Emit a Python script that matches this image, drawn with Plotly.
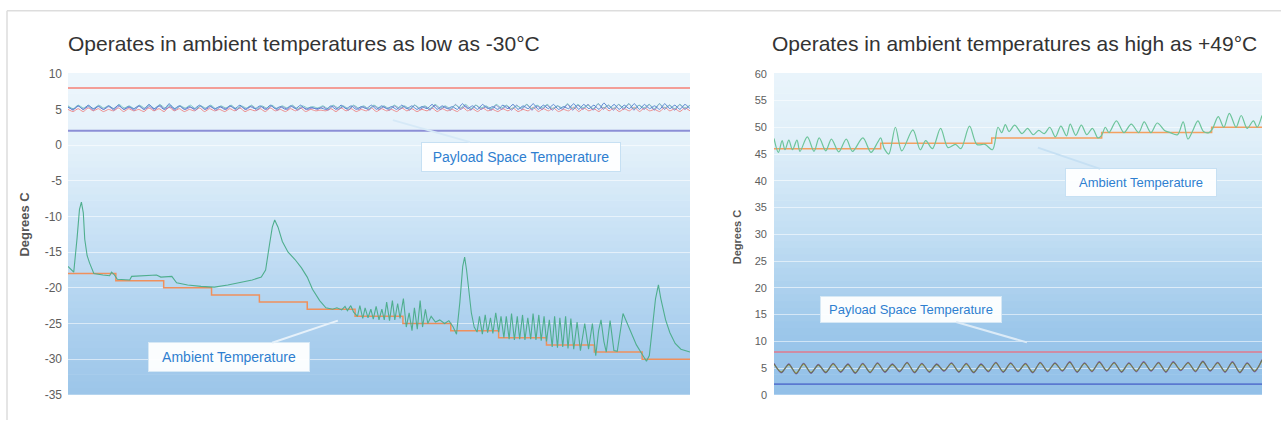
import numpy as np
import plotly.graph_objects as go

W, H = 1281, 427

# ---------------- LEFT PANEL DATA (x in arbitrary time units 0..13) ----------------
left_title = "Operates in ambient temperatures as low as -30°C"
right_title = "Operates in ambient temperatures as high as +49°C"
y_label = "Degrees C"

left_yticks = [10, 5, 0, -5, -10, -15, -20, -25, -30, -35]
right_yticks = [60, 55, 50, 45, 40, 35, 30, 25, 20, 15, 10, 5, 0]

left_upper_limit = 8
left_lower_limit = 2

left_amb_x = [0.00, 0.06, 0.12, 0.19, 0.24, 0.28, 0.32, 0.35, 0.40, 0.45, 0.54, 0.73, 0.87, 0.91, 0.97,
              1.03, 1.29, 1.33, 1.66, 1.85, 1.94, 2.17, 2.27, 2.50, 2.78, 3.06, 3.34, 3.62, 3.85, 4.04,
              4.13, 4.21, 4.27, 4.32, 4.39, 4.48, 4.60, 4.74, 4.88, 5.00, 5.11, 5.26, 5.39, 5.53, 5.62,
              5.72, 5.79, 5.84, 5.91, 5.97, 6.05, 6.10, 6.16, 6.21, 6.27, 6.33, 6.38, 6.44, 6.50, 6.56,
              6.61, 6.66, 6.72, 6.78, 6.83, 6.89, 6.94, 7.01, 7.07, 7.13, 7.19, 7.24, 7.30, 7.36, 7.41,
              7.47, 7.52, 7.59, 7.68, 7.77, 7.87, 7.96, 8.05, 8.12, 8.19, 8.25, 8.29, 8.33, 8.38, 8.43,
              8.49, 8.55, 8.60, 8.66, 8.72, 8.77, 8.83, 8.88, 8.94, 9.00, 9.05, 9.11, 9.16, 9.22, 9.27,
              9.33, 9.39, 9.44, 9.50, 9.55, 9.61, 9.67, 9.72, 9.78, 9.84, 9.89, 9.95, 10.00, 10.06, 10.12,
              10.17, 10.23, 10.28, 10.34, 10.40, 10.45, 10.51, 10.57, 10.64, 10.71, 10.80, 10.88, 10.96,
              11.03, 11.09, 11.14, 11.20, 11.25, 11.33, 11.41, 11.48, 11.60, 11.74, 11.88, 12.00, 12.09,
              12.15, 12.22, 12.28, 12.34, 12.39, 12.49, 12.58, 12.69, 12.81, 13.00]
left_amb_y = [-17.0, -17.4, -17.8, -13.0, -9.0, -8.0, -9.5, -13.2, -15.5, -16.5, -18.0, -18.2, -18.3, -17.8, -18.2,
              -18.8, -18.9, -18.4, -18.3, -18.2, -18.5, -18.4, -19.3, -19.6, -19.8, -19.9, -19.6, -19.2, -18.9, -18.5,
              -17.5, -14.0, -11.5, -10.5, -11.5, -13.5, -15.0, -16.0, -17.2, -18.5, -20.2, -21.8, -22.8, -23.0, -22.8,
              -23.1, -22.6, -23.2, -22.5, -23.4, -24.0, -22.5, -24.3, -22.8, -24.2, -23.0, -24.4, -22.6, -24.5, -23.0,
              -24.5, -22.0, -24.6, -21.8, -24.5, -22.2, -24.3, -21.5, -25.5, -23.5, -26.0, -22.8, -25.8, -21.8, -25.5,
              -23.0, -25.0, -24.0, -24.8, -24.5, -25.0, -24.6, -25.5, -26.5, -22.0, -17.0, -15.7, -17.5, -20.5, -23.5,
              -25.5, -26.2, -24.0, -26.5, -23.8, -26.3, -24.2, -26.4, -23.5, -26.2, -24.0, -27.0, -24.0, -27.2, -23.6,
              -27.3, -24.0, -27.2, -23.8, -27.3, -24.2, -27.2, -23.6, -27.3, -23.8, -27.4, -24.0, -27.5, -24.5, -28.3,
              -24.0, -28.4, -24.2, -28.3, -24.0, -28.5, -24.3, -28.6, -24.8, -28.8, -25.0, -28.6, -25.0,
              -29.5, -26.0, -24.5, -27.5, -29.0, -24.6, -28.8, -28.9, -23.6, -25.8, -28.0, -29.3, -30.3,
              -29.5, -25.5, -21.5, -19.6, -21.5, -24.5, -26.3, -27.8, -28.6, -29.0]

left_set_x = [0, 1, 2, 3, 4, 5, 6, 7, 8, 9, 10, 11, 12, 13]
left_set_y = [-18, -19, -20, -21, -22, -23, -24, -25, -26, -27, -28, -29, -30, -30]

left_pay_red = [5.0, 4.7, 5.1, 4.7, 5.2, 4.8, 5.1, 4.7, 5.0, 4.8, 5.2, 4.7, 5.1, 4.8, 5.0, 4.7, 5.2, 4.8, 5.1, 4.7,
                5.3, 4.8, 5.1, 4.7, 5.0, 4.8, 5.2, 4.7, 5.1, 4.8, 5.0, 4.7, 5.1, 4.8, 5.2, 4.7, 5.0, 4.8, 5.1, 4.7,
                5.2, 4.8, 5.0, 4.7, 5.1, 4.8, 5.2, 4.7, 5.0, 4.8, 4.9, 4.8, 5.1, 4.7, 5.2, 4.8, 5.1, 4.7, 5.0, 4.8,
                5.2, 4.7, 5.1, 4.8, 5.0, 4.7, 5.2, 4.8, 5.1, 4.7, 5.0, 4.8, 5.2, 4.7, 5.1, 4.8, 5.0, 4.7, 5.3, 4.8,
                5.1, 4.7, 5.2, 4.8, 5.0, 4.7, 5.1, 4.8, 5.2, 4.7, 5.0, 4.8, 5.3, 4.7, 5.1, 4.8, 5.2, 4.7, 5.0, 4.8,
                5.3, 4.7, 5.2, 4.8, 5.1, 4.7, 5.3, 4.8, 5.2, 4.7, 5.1, 4.8, 5.3, 4.7, 5.2, 4.8, 5.0, 4.7, 5.3, 4.8,
                5.1, 4.7, 5.2, 4.8]
left_pay_blue = [5.3, 5.0, 5.5, 5.0, 5.6, 5.1, 5.4, 5.0, 5.5, 5.1, 5.6, 5.0, 5.4, 5.1, 5.5, 5.0, 5.7, 5.1, 5.5, 5.0,
                 5.8, 5.1, 5.5, 5.0, 5.4, 5.1, 5.6, 5.0, 5.5, 5.1, 5.4, 5.0, 5.5, 5.1, 5.6, 5.0, 5.4, 5.1, 5.5, 5.0,
                 5.6, 5.1, 5.4, 5.0, 5.5, 5.1, 5.6, 5.0, 5.3, 5.1, 5.2, 5.0, 5.5, 5.0, 5.6, 5.1, 5.5, 5.0, 5.4, 5.1,
                 5.6, 5.0, 5.5, 5.1, 5.4, 5.0, 5.6, 5.1, 5.5, 5.0, 5.4, 5.1, 5.7, 5.0, 5.5, 5.1, 5.4, 5.0, 5.8, 5.1,
                 5.5, 5.0, 5.7, 5.1, 5.4, 5.0, 5.6, 5.1, 5.7, 5.0, 5.5, 5.1, 5.8, 5.0, 5.6, 5.1, 5.7, 5.0, 5.4, 5.1,
                 5.8, 5.0, 5.7, 5.1, 5.6, 5.0, 5.9, 5.1, 5.7, 5.0, 5.6, 5.1, 5.8, 5.0, 5.7, 5.1, 5.5, 5.0, 5.8, 5.1,
                 5.6, 5.0, 5.7, 5.1]
left_pay_teal = [5.5, 5.1, 5.6, 5.2, 5.5, 5.1, 5.6, 5.2, 5.5, 5.1, 5.7, 5.2, 5.5, 5.1, 5.6, 5.2, 5.6, 5.1, 5.7,
                 5.2, 5.6, 5.1, 5.5, 5.2, 5.6, 5.1, 5.5, 5.2, 5.6, 5.1, 5.5, 5.2, 5.6, 5.1, 5.5, 5.2, 5.6, 5.1, 5.5,
                 5.2, 5.6, 5.1, 5.5, 5.2, 5.6, 5.1, 5.5, 5.2, 5.4, 5.2, 5.5, 5.1, 5.6, 5.2, 5.5, 5.1, 5.6, 5.2, 5.5,
                 5.1, 5.6, 5.2, 5.5, 5.1, 5.6, 5.2, 5.5, 5.1, 5.6, 5.2, 5.5, 5.1, 5.7, 5.2, 5.5, 5.1, 5.6, 5.2, 5.7,
                 5.1, 5.6, 5.2, 5.5, 5.1, 5.7, 5.2, 5.6, 5.1, 5.5, 5.2, 5.7, 5.1, 5.6, 5.2, 5.7, 5.1, 5.5, 5.2, 5.8,
                 5.1, 5.7, 5.2, 5.6, 5.1, 5.8, 5.2, 5.6, 5.1, 5.7, 5.2, 5.8, 5.1, 5.6, 5.2, 5.7, 5.1, 5.8, 5.2, 5.6,
                 5.1, 5.7, 5.2, 5.6]
left_pay_purple = [5.4, 4.9, 5.5, 5.0, 5.4, 4.9, 5.5, 5.0, 5.4, 4.9, 5.5, 5.0, 5.3, 4.9, 5.5, 5.0, 5.4, 4.9, 5.6,
                   5.0, 5.4, 4.9, 5.5, 5.0, 5.3, 4.9, 5.5, 5.0, 5.4, 4.9, 5.4, 5.0, 5.5, 4.9, 5.4, 5.0, 5.5, 4.9, 5.4,
                   5.0, 5.5, 4.9, 5.4, 5.0, 5.5, 4.9, 5.3, 5.0, 5.2, 5.0, 5.4, 4.9, 5.5, 5.0, 5.4, 4.9, 5.5, 5.0, 5.4,
                   4.9, 5.5, 5.0, 5.4, 4.9, 5.5, 5.0, 5.4, 4.9, 5.6, 5.0, 5.4, 4.9, 5.6, 5.0, 5.4, 4.9, 5.7, 5.0, 5.5,
                   4.9, 5.6, 5.0, 5.4, 4.9, 5.6, 5.0, 5.5, 4.9, 5.6, 5.0, 5.7, 4.9, 5.5, 5.0, 5.6, 4.9, 5.5, 5.0, 5.7,
                   4.9, 5.6, 5.0, 5.7, 4.9, 5.8, 5.0, 5.6, 4.9, 5.7, 5.0, 5.8, 4.9, 5.6, 5.0, 5.7, 4.9, 5.8, 5.0, 5.6,
                   4.9, 5.7, 5.0, 5.6]

# ---------------- RIGHT PANEL DATA (x in arbitrary time units 0..4.44) ----------------
right_xmax = 4.438
right_upper_limit = 8
right_lower_limit = 2

right_amb_x = [0.000, 0.040, 0.074, 0.100, 0.135, 0.168, 0.209, 0.236, 0.303, 0.364, 0.411, 0.471, 0.522, 0.589,
               0.657, 0.714, 0.808, 0.882, 0.943, 0.970, 1.003, 1.044, 1.104, 1.162, 1.263, 1.330, 1.380, 1.441,
               1.515, 1.582, 1.650, 1.700, 1.778, 1.845, 1.919, 1.987, 2.037, 2.071, 2.104, 2.138, 2.189, 2.256,
               2.306, 2.357, 2.407, 2.458, 2.508, 2.559, 2.609, 2.660, 2.694, 2.744, 2.795, 2.845, 2.896, 2.946,
               2.980, 3.013, 3.047, 3.114, 3.182, 3.249, 3.316, 3.367, 3.428, 3.485, 3.552, 3.603, 3.670, 3.721,
               3.764, 3.805, 3.855, 3.906, 3.956, 3.990, 4.040, 4.091, 4.141, 4.202, 4.249, 4.303, 4.360, 4.394, 4.438]
right_amb_y = [47.9, 45.3, 47.5, 45.8, 47.6, 45.8, 47.6, 45.5, 48.2, 45.5, 48.0, 45.6, 47.8, 45.4,
               47.8, 45.5, 48.0, 45.3, 47.2, 48.0, 46.0, 45.0, 50.0, 45.6, 49.5, 45.8, 47.5, 46.0,
               49.8, 46.2, 46.8, 46.0, 50.2, 46.8, 46.8, 45.8, 50.0, 49.0, 50.5, 49.2, 50.4, 48.8,
               49.8, 48.6, 49.4, 48.8, 50.0, 48.2, 50.2, 48.4, 50.6, 48.5, 50.4, 48.6, 49.8, 48.0,
               48.5, 50.0, 49.0, 51.2, 49.0, 50.6, 49.0, 51.0, 49.0, 50.8, 49.4, 49.0, 48.6, 51.0,
               47.8, 49.2, 51.2, 49.2, 49.0, 49.8, 52.0, 50.0, 52.6, 50.0, 52.2, 49.8, 51.2, 50.0, 52.2]

right_set_x = [0, 0.97, 1.98, 2.98, 3.98, 4.438]
right_set_y = [46, 47, 48, 49, 50, 50]

right_pay_grey = [5.8, 4.2, 5.7, 4.0, 5.8, 4.1, 5.6, 4.2, 5.8, 4.3, 5.7, 4.1, 5.8, 4.2, 5.9, 4.3, 5.7, 4.4, 6.0, 4.2,
                  5.8, 4.3, 5.7, 4.5, 5.9, 4.3, 5.8, 4.2, 5.7, 4.4, 6.0, 4.3, 5.9, 4.4, 5.8, 4.2, 6.0, 4.4, 5.9, 4.5,
                  6.1, 4.3, 5.9, 4.4, 6.1, 4.5, 6.0, 4.3, 5.9, 4.4, 6.1, 4.5, 6.0, 4.3, 6.1, 4.6, 6.0, 4.4, 6.2, 4.5,
                  6.0, 4.3, 6.1, 4.2, 5.9, 4.4, 6.5]
right_pay_green = [5.7, 4.3, 5.6, 4.1, 5.7, 4.2, 5.5, 4.3, 5.7, 4.4, 5.6, 4.2, 5.7, 4.3, 5.8, 4.4, 5.6, 4.5, 5.9, 4.3,
                   5.7, 4.4, 5.6, 4.6, 5.8, 4.4, 5.7, 4.3, 5.6, 4.5, 5.9, 4.4, 5.8, 4.5, 5.7, 4.3, 5.9, 4.5, 5.8, 4.6,
                   6.0, 4.4, 5.8, 4.5, 6.0, 4.6, 5.9, 4.4, 5.8, 4.5, 6.0, 4.6, 5.9, 4.4, 6.0, 4.7, 5.9, 4.5, 6.1, 4.6,
                   5.9, 4.4, 6.0, 4.3, 5.8, 4.5, 6.4]
right_pay_purple = [5.9, 4.1, 5.8, 3.9, 5.9, 4.0, 5.7, 4.1, 5.9, 4.2, 5.8, 4.0, 5.9, 4.1, 6.0, 4.2, 5.8, 4.3, 6.1, 4.1,
                    5.9, 4.2, 5.8, 4.4, 6.0, 4.2, 5.9, 4.1, 5.8, 4.3, 6.1, 4.2, 6.0, 4.3, 5.9, 4.1, 6.1, 4.3, 6.0, 4.4,
                    6.2, 4.2, 6.0, 4.3, 6.2, 4.4, 6.1, 4.2, 6.0, 4.3, 6.2, 4.4, 6.1, 4.2, 6.2, 4.5, 6.1, 4.3, 6.3, 4.4,
                    6.1, 4.2, 6.2, 4.1, 6.0, 4.3, 6.6]

# ---------------- FIGURE ----------------
fig = go.Figure()

L_DOM = [68 / W, 690 / W]
R_DOM = [774 / W, 1262 / W]
Y_DOM = [1 - 401 / H, 1 - 69 / H]


def add_line(x, y, color, width, xa, ya, shape="linear", smoothing=1.0):
    fig.add_trace(go.Scatter(x=x, y=y, mode="lines", xaxis=xa, yaxis=ya,
                             line=dict(color=color, width=width, shape=shape, smoothing=smoothing),
                             hoverinfo="skip", showlegend=False))


# left panel
lx_full = [0, 13]
add_line(lx_full, [left_upper_limit] * 2, "#f39d97", 2, "x", "y")
add_line(lx_full, [left_lower_limit] * 2, "#8c8fd6", 2, "x", "y")
for vals, col in [(left_pay_red, "#ec8c8c"), (left_pay_purple, "#8a78c8"),
                  (left_pay_teal, "#7cc8c4"), (left_pay_blue, "#5a86d0")]:
    add_line(np.linspace(0, 13, len(vals)), vals, col, 1.0, "x", "y", "spline", 0.6)
add_line(left_set_x, left_set_y, "#f0905c", 1.5, "x", "y", "hv")
add_line(left_amb_x, left_amb_y, "#4fae8e", 1.1, "x", "y")

# right panel
rx_full = [0, right_xmax]
add_line(rx_full, [right_upper_limit] * 2, "#e0788c", 1.6, "x2", "y2")
add_line(rx_full, [right_lower_limit] * 2, "#5a78d0", 1.8, "x2", "y2")
for vals, col in [(right_pay_purple, "#8a62b8"), (right_pay_green, "#c9cc52"), (right_pay_grey, "#5e6a66")]:
    add_line(np.linspace(0, right_xmax, len(vals)), vals, col, 1.1, "x2", "y2", "spline", 0.8)
add_line(right_set_x, right_set_y, "#f4a060", 1.5, "x2", "y2", "hv")
add_line(right_amb_x, right_amb_y, "#6cc49a", 1.2, "x2", "y2", "spline", 0.9)

tickfont = dict(family="Liberation Sans, Arial, sans-serif", size=12, color="#5e5e5e")
grid = "rgba(255,255,255,0.55)"

fig.update_layout(
    width=W, height=H,
    margin=dict(l=0, r=0, t=0, b=0),
    paper_bgcolor="white",
    plot_bgcolor="rgba(0,0,0,0)",
    showlegend=False,
    xaxis=dict(domain=L_DOM, range=[0, 13], showticklabels=False, showgrid=False, zeroline=False, showline=False),
    yaxis=dict(domain=Y_DOM, range=[-35, 10], tickvals=left_yticks, ticktext=[str(v) for v in left_yticks],
               showgrid=True, gridcolor=grid, gridwidth=1, zeroline=False, showline=False, tickfont=tickfont,
               ticks="", ticklabelstandoff=5),
    xaxis2=dict(domain=R_DOM, range=[0, right_xmax], showticklabels=False, showgrid=False, zeroline=False,
                showline=False, anchor="y2"),
    yaxis2=dict(domain=Y_DOM, range=[0, 60], tickvals=right_yticks, ticktext=[str(v) for v in right_yticks],
                showgrid=True, gridcolor=grid, gridwidth=1, zeroline=False, showline=False,
                tickfont=dict(tickfont, size=11), ticks="", anchor="x2", ticklabelstandoff=6),
)


# gradient backgrounds (bands)
def hex2rgb(h):
    h = h.lstrip("#")
    return [int(h[i:i + 2], 16) for i in (0, 2, 4)]


def band_color(stops, t):
    for (t0, c0), (t1, c1) in zip(stops[:-1], stops[1:]):
        if t0 <= t <= t1:
            f = (t - t0) / (t1 - t0) if t1 > t0 else 0
            a, b = hex2rgb(c0), hex2rgb(c1)
            return "rgb(%d,%d,%d)" % tuple(round(a[i] + (b[i] - a[i]) * f) for i in range(3))
    return stops[-1][1]


left_stops = [(0.0, "#9cc5e9"), (0.25, "#afd2ef"), (0.5, "#c8e1f5"), (0.78, "#e4f1fa"), (1.0, "#edf6fc")]
right_stops = [(0.0, "#92c0e8"), (0.2, "#9cc7ea"), (0.5, "#c2def3"), (0.8, "#e0eff9"), (1.0, "#eaf4fb")]
NB = 48
shapes = []
for xr, yr, stops in [("x domain", "y domain", left_stops), ("x2 domain", "y2 domain", right_stops)]:
    for i in range(NB):
        t = (i + 0.5) / NB
        shapes.append(dict(type="rect", xref=xr, yref=yr, x0=0, x1=1, y0=i / NB, y1=(i + 1) / NB + 0.002,
                           fillcolor=band_color(stops, t), line=dict(width=0), layer="below"))
# frame lines
shapes.append(dict(type="line", xref="paper", yref="paper", x0=7 / W, x1=1, y0=1 - 4 / H, y1=1 - 4 / H,
                   line=dict(color="#dddddd", width=1.5)))
shapes.append(dict(type="line", xref="paper", yref="paper", x0=7 / W, x1=7 / W, y0=0, y1=1 - 4 / H,
                   line=dict(color="#dddddd", width=1.5)))
fig.update_layout(shapes=shapes)

title_font = dict(family="Liberation Sans, Arial, sans-serif", size=21, color="#333333")
axis_title_font = dict(family="Liberation Sans, Arial, sans-serif", size=13, color="#555555")
callout_font = dict(family="Liberation Sans, Arial, sans-serif", color="#2f7fd0")

annotations = [
    dict(text=left_title, xref="paper", yref="paper", x=66 / W, y=1 - 38 / H, xanchor="left", yanchor="middle",
         showarrow=False, font=title_font),
    dict(text=right_title, xref="paper", yref="paper", x=770 / W, y=1 - 38 / H, xanchor="left", yanchor="middle",
         showarrow=False, font=title_font),
    dict(text="<b>" + y_label + "</b>", xref="paper", yref="paper", x=25 / W, y=1 - 225 / H, textangle=-90,
         xanchor="center", yanchor="middle", showarrow=False, font=axis_title_font),
    dict(text="<b>" + y_label + "</b>", xref="paper", yref="paper", x=737 / W, y=1 - 238 / H, textangle=-90,
         xanchor="center", yanchor="middle", showarrow=False, font=dict(axis_title_font, size=11)),
    # callouts
    dict(text="Payload Space Temperature", x=6.79, y=3.5, xref="x", yref="y", ax=9.47, ay=-1.62,
         axref="x", ayref="y", showarrow=True, arrowhead=0, arrowwidth=2, arrowcolor="#d6e9f7",
         bgcolor="rgba(255,255,255,0.93)", bordercolor="#c6e0f3", borderwidth=1, width=196, height=26,
         font=dict(callout_font, size=14)),
    dict(text="Ambient Temperature", x=5.64, y=-24.6, xref="x", yref="y", ax=3.365, ay=-29.73,
         axref="x", ayref="y", showarrow=True, arrowhead=0, arrowwidth=2, arrowcolor="#e6f1fa",
         bgcolor="rgba(255,255,255,0.95)", bordercolor="#d6e8f5", borderwidth=1, width=158, height=26,
         font=dict(callout_font, size=14)),
    dict(text="Ambient Temperature", x=2.40, y=46.2, xref="x2", yref="y2", ax=3.338, ay=39.6,
         axref="x2", ayref="y2", showarrow=True, arrowhead=0, arrowwidth=2, arrowcolor="#c6e0f3",
         bgcolor="rgba(255,255,255,0.93)", bordercolor="#c6e0f3", borderwidth=1, width=148, height=25,
         font=dict(callout_font, size=13)),
    dict(text="Payload Space Temperature", x=2.30, y=9.8, xref="x2", yref="y2", ax=1.246, ay=16.04,
         axref="x2", ayref="y2", showarrow=True, arrowhead=0, arrowwidth=2, arrowcolor="#dcebf7",
         bgcolor="rgba(255,255,255,0.95)", bordercolor="#d6e8f5", borderwidth=1, width=178, height=23,
         font=dict(callout_font, size=13)),
]
fig.update_layout(annotations=annotations)

fig.write_html("out.html", config={"displayModeBar": False, "staticPlot": True},
               post_script="document.body.style.margin='0';document.body.style.padding='0';"
                           "document.body.style.overflow='hidden';")
